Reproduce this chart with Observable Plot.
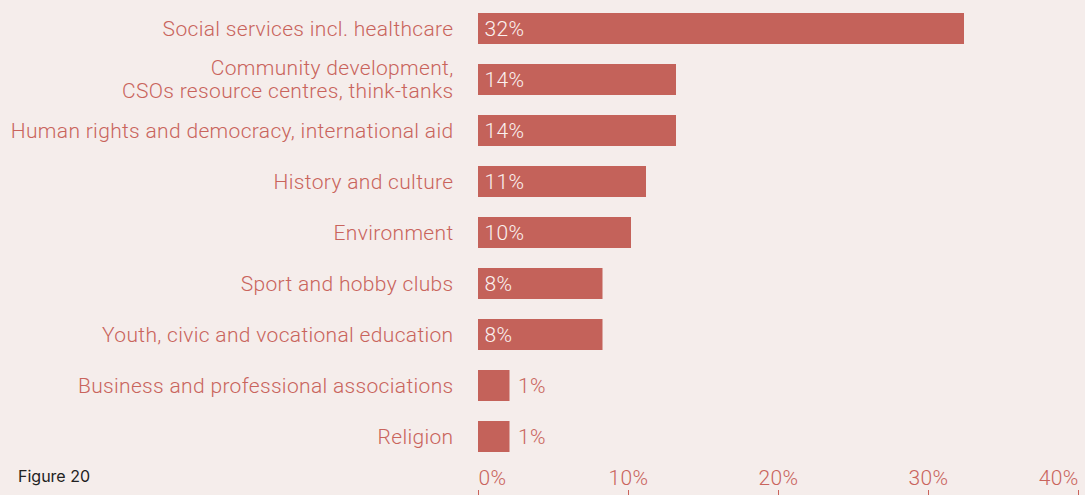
<!DOCTYPE html>
<html><head><meta charset="utf-8">
<script src="https://cdn.jsdelivr.net/npm/d3@7"></script>
<script src="https://cdn.jsdelivr.net/npm/@observablehq/plot@0.6"></script>
<style>
html,body{margin:0;padding:0;background:#f5edeb;}
#wrap{position:relative;width:1085px;height:495px;overflow:hidden;}
#cap{position:absolute;left:18px;top:466px;font-family:Inter,"Open Sans",sans-serif;font-size:16px;color:#222;}
svg text{letter-spacing:0.33px;}
</style></head>
<body><div id="wrap"><div id="cap">Figure 20</div></div>
<script>
const categories = [
  "Social services incl. healthcare",
  "Community development,\nCSOs resource centres, think-tanks",
  "Human rights and democracy, international aid",
  "History and culture",
  "Environment",
  "Sport and hobby clubs",
  "Youth, civic and vocational education",
  "Business and professional associations",
  "Religion"
];
const values = [32.4, 13.2, 13.2, 11.2, 10.2, 8.3, 8.3, 2.1, 2.1];
const valueLabels = ["32%", "14%", "14%", "11%", "10%", "8%", "8%", "1%", "1%"];
const ticks = [0, 10, 20, 30, 40];
const tickLabels = ["0%", "10%", "20%", "30%", "40%"];

const data = categories.map((c, i) => ({cat: c, value: values[i], label: valueLabels[i]}));
const tickData = ticks.map((t, i) => ({t, s: tickLabels[i]}));
const barColor = "#c4625a";
const textColor = "#c9645c";
const font = "Roboto, sans-serif";
const fs = 21;

const chart = Plot.plot({
  width: 1085,
  height: 495,
  marginLeft: 478,
  marginRight: 7,
  marginTop: 5,
  marginBottom: 36,
  style: {background: "transparent", fontFamily: font, fontSize: fs + "px", fontWeight: 300, color: textColor},
  x: {domain: [0, 40], axis: null},
  y: {domain: categories, paddingInner: 0.4, paddingOuter: 0.1, axis: null},
  marks: [
    Plot.barX(data, {y: "cat", x: "value", fill: barColor}),
    Plot.text(data, {y: "cat", x: 0, text: "cat", textAnchor: "end", dx: -25, dy: -1, fill: textColor, fontSize: fs, fontWeight: 300, lineHeight: 1.12}),
    Plot.text(data.filter(d => d.value > 5), {y: "cat", x: 0, text: "label", textAnchor: "start", dx: 6, fill: "#fbf1ef", fontSize: fs, fontWeight: 300}),
    Plot.text(data.filter(d => d.value <= 5), {y: "cat", x: "value", text: "label", textAnchor: "start", dx: 8, fill: textColor, fontSize: fs, fontWeight: 300}),
    Plot.ruleX(ticks, {x: d => d, stroke: textColor, strokeWidth: 1, insetTop: 485, insetBottom: -36}),
    Plot.text(tickData, {x: "t", text: "s", frameAnchor: "bottom", lineAnchor: "middle", dy: 19, fill: textColor, fontSize: fs, fontWeight: 300,
      textAnchor: "middle", filter: d => d.t > 0 && d.t < 40}),
    Plot.text(tickData, {x: "t", text: "s", frameAnchor: "bottom", lineAnchor: "middle", dy: 19, fill: textColor, fontSize: fs, fontWeight: 300,
      textAnchor: "start", filter: d => d.t === 0}),
    Plot.text(tickData, {x: "t", text: "s", frameAnchor: "bottom", lineAnchor: "middle", dy: 19, fill: textColor, fontSize: fs, fontWeight: 300,
      textAnchor: "end", filter: d => d.t === 40})
  ]
});
document.getElementById("wrap").prepend(chart);
</script>
</body></html>
